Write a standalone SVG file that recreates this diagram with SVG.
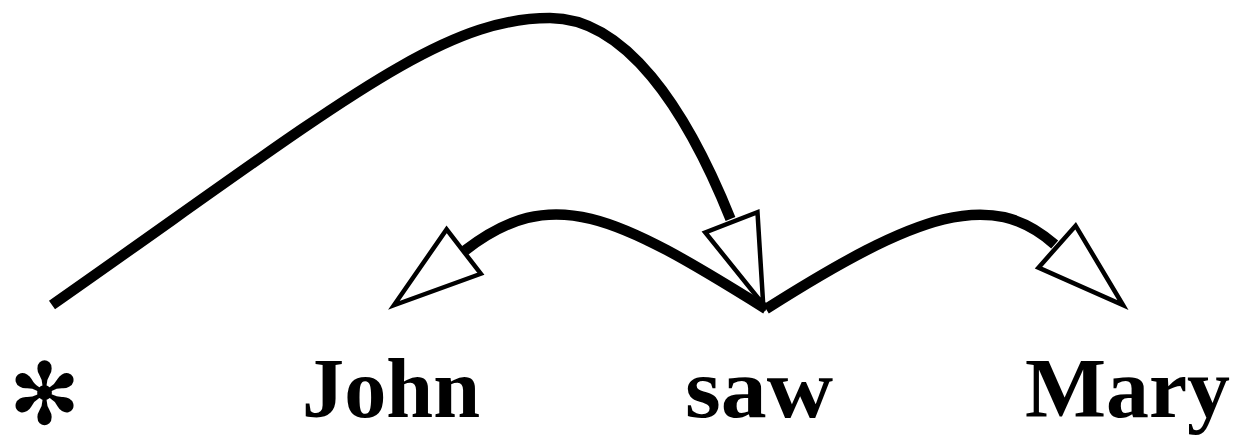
<svg xmlns="http://www.w3.org/2000/svg" width="1233" height="438" viewBox="0 0 1233 438">
  <style>
    .arc { fill: none; stroke: #000; stroke-width: 10.5; stroke-linecap: butt; stroke-linejoin: round; }
    .head { fill: #fff; stroke: #000; stroke-width: 4.5; stroke-linejoin: miter; }
    .word { font-family: "Liberation Serif", "Times New Roman", serif; font-weight: bold; font-size: 84px; fill: #000; }
    .star { font-family: "DejaVu Sans", sans-serif; font-size: 86px; fill: #000; }
  </style>
  <defs>
    <polygon id="ahead" class="head" points="-5,0 -93,-28 -93,28"/>
  </defs>
  <rect width="1233" height="438" fill="#fff"/>
  <g id="connectors">
    <path class="arc" d="M52,305 C339,104 440,18 550,18 C625,18 685.6,107.4 730.5,219"/>
    <path class="arc" d="M766,309 C613.4,213.6 552.1,183.4 465,250.5"/>
    <path class="arc" d="M766,309 C918.1,212.5 991.1,188.1 1054.7,244.5"/>
    <use href="#ahead" transform="translate(765,309) rotate(68.8)"/>
    <use href="#ahead" transform="translate(390,308.3) rotate(142.4)"/>
    <use href="#ahead" transform="translate(1126.7,308.3) rotate(41.5)"/>
  </g>
  <g id="node-star">
    <text class="star" x="44.5" y="423.5" text-anchor="middle">✻</text>
  </g>
  <g id="node-john">
    <text class="word" x="302" y="417" textLength="178" lengthAdjust="spacingAndGlyphs">John</text>
  </g>
  <g id="node-saw">
    <text class="word" x="685" y="417" textLength="148" lengthAdjust="spacingAndGlyphs">saw</text>
  </g>
  <g id="node-mary">
    <text class="word" x="1025" y="417" textLength="205" lengthAdjust="spacingAndGlyphs">Mary</text>
  </g>
</svg>
